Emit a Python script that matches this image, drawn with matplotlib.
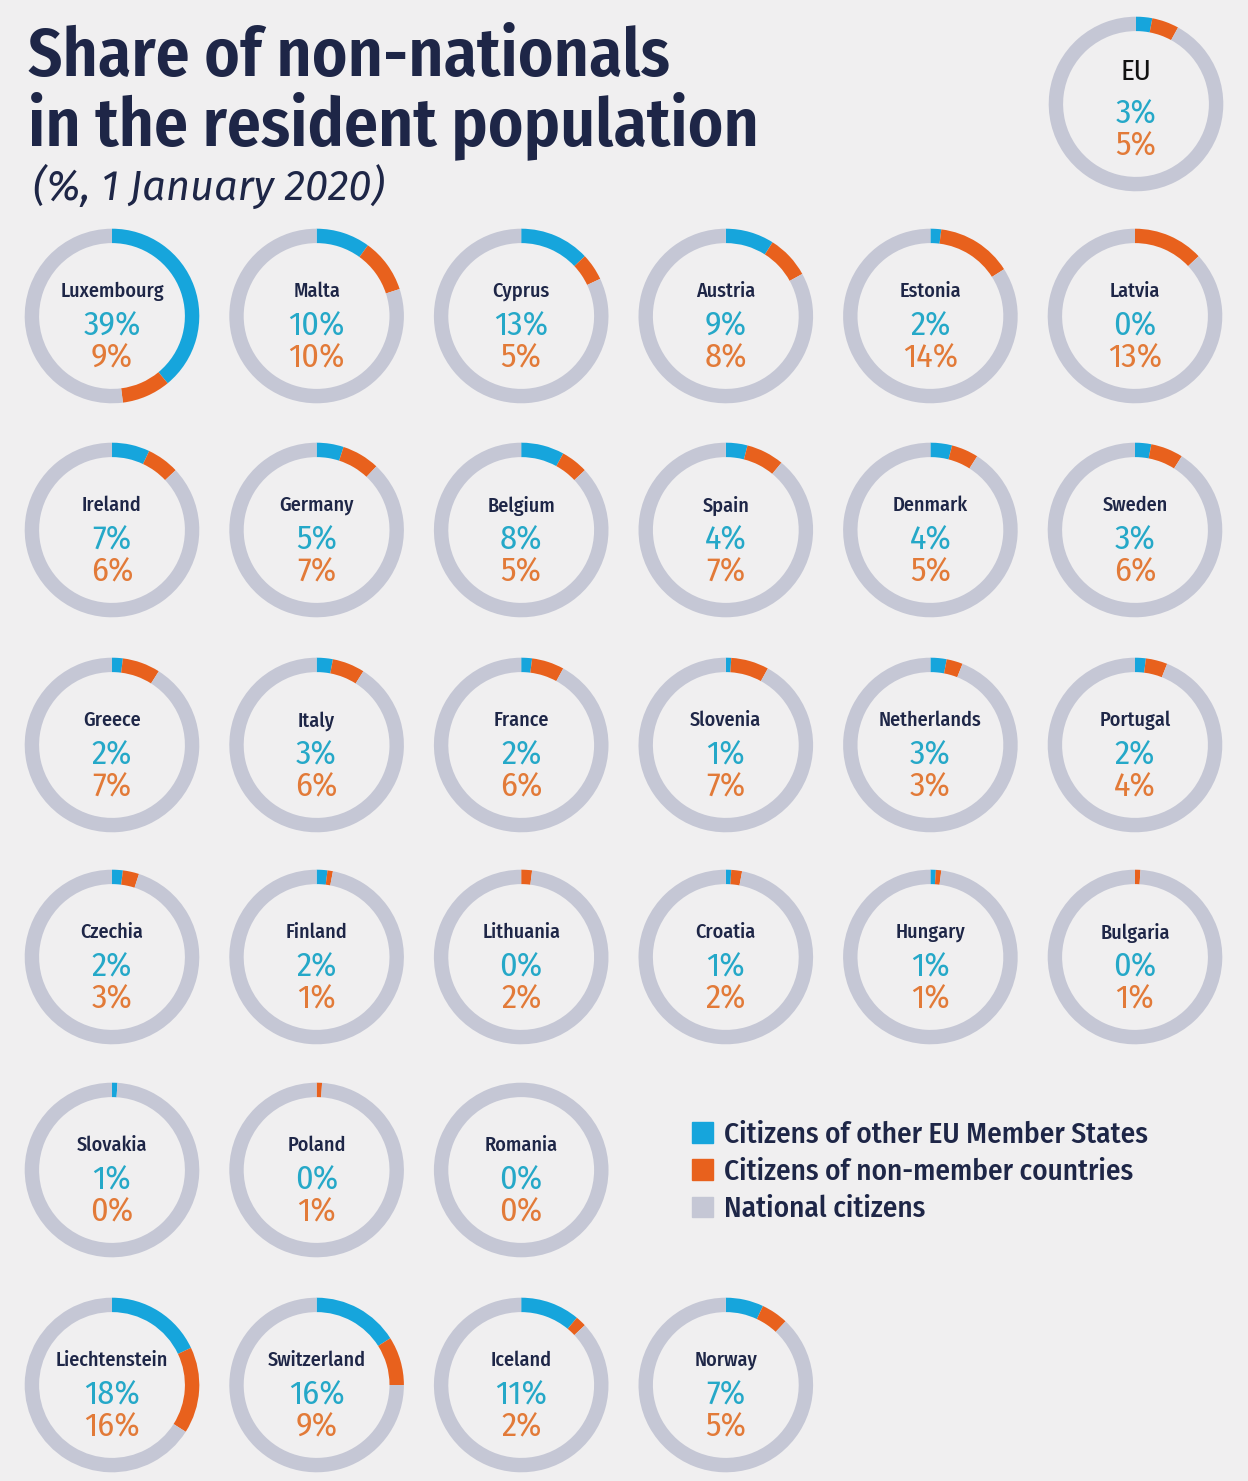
import matplotlib
matplotlib.use('Agg')
import matplotlib.pyplot as plt
from matplotlib.patches import Patch

# share of residents (%), 1 January 2020
countries = ['Luxembourg', 'Malta', 'Cyprus', 'Austria', 'Estonia', 'Latvia',
             'Ireland', 'Germany', 'Belgium', 'Spain', 'Denmark', 'Sweden',
             'Greece', 'Italy', 'France', 'Slovenia', 'Netherlands', 'Portugal',
             'Czechia', 'Finland', 'Lithuania', 'Croatia', 'Hungary', 'Bulgaria',
             'Slovakia', 'Poland', 'Romania',
             'Liechtenstein', 'Switzerland', 'Iceland', 'Norway']
other_eu = [39, 10, 13, 9, 2, 0,
            7, 5, 8, 4, 4, 3,
            2, 3, 2, 1, 3, 2,
            2, 2, 0, 1, 1, 0,
            1, 0, 0,
            18, 16, 11, 7]
non_member = [9, 10, 5, 8, 14, 13,
              6, 7, 5, 7, 5, 6,
              7, 6, 6, 7, 3, 4,
              3, 1, 2, 2, 1, 1,
              0, 1, 0,
              16, 9, 2, 5]
eu_total = ('EU', 3, 5)

legend_labels = ['Citizens of other EU Member States',
                 'Citizens of non-member countries',
                 'National citizens']

BG = '#f0eff0'
CYAN = '#16a5dc'
ORANGE = '#e8611d'
GREY = '#c5c7d5'
NAVY = '#1e2647'
CYAN_TXT = '#25a8c8'
ORANGE_TXT = '#e27a38'
FONT = ['Fira Sans Condensed', 'DejaVu Sans']

W, H = 1248, 1481
fig = plt.figure(figsize=(W / 100, H / 100), dpi=100, facecolor=BG)

R = 90  # donut radius in px


def donut(cx, cy, name, a, b, name_color=NAVY, name_size=14.5, name_y=0.27,
          name_weight='medium'):
    ax = fig.add_axes([(cx - R) / W, 1 - (cy + R) / H, 2 * R / W, 2 * R / H])
    ax.pie([a, b, 100 - a - b], colors=[CYAN, ORANGE, GREY], startangle=90,
           counterclock=False, radius=0.97,
           wedgeprops=dict(width=0.16, linewidth=0))
    ax.set_xlim(-1, 1)
    ax.set_ylim(-1, 1)
    ax.set_aspect('equal')
    ax.axis('off')
    ax.text(0, name_y, name, ha='center', va='center', fontsize=name_size,
            fontweight=name_weight, color=name_color, family=FONT)
    ax.text(0, -0.11, f'{a}%', ha='center', va='center', fontsize=24.5,
            color=CYAN_TXT, family=FONT)
    ax.text(0, -0.47, f'{b}%', ha='center', va='center', fontsize=24.5,
            color=ORANGE_TXT, family=FONT)


col_x = [112 + 204.6 * i for i in range(6)]
row_y = [316, 530, 745, 957, 1170, 1385]

for i, (name, a, b) in enumerate(zip(countries, other_eu, non_member)):
    if i < 27:
        r, c = divmod(i, 6)
    else:
        r, c = 5, i - 27
    donut(col_x[c], row_y[r], name, a, b)

# EU aggregate, top right
donut(1136, 104, eu_total[0], eu_total[1], eu_total[2],
      name_color='#111111', name_size=21, name_y=0.36, name_weight='normal')

# titles
fig.text(28 / W, 1 - 76 / H, 'Share of non-nationals', fontsize=48.5,
         fontweight='semibold', color=NAVY, family=FONT, va='baseline')
fig.text(28 / W, 1 - 145 / H, 'in the resident population', fontsize=48.5,
         fontweight='semibold', color=NAVY, family=FONT, va='baseline')
fig.text(33 / W, 1 - 200 / H, '(%, 1 January 2020)', fontsize=30,
         style='italic', color=NAVY, family=['Fira Sans', 'DejaVu Sans'],
         va='baseline')

handles = [Patch(color=c) for c in (CYAN, ORANGE, GREY)]
fig.legend(handles, legend_labels, loc='upper left',
           bbox_to_anchor=(666 / W, 1 - 1094 / H), frameon=False,
           prop=dict(family=FONT, size=21, weight='medium'),
           labelcolor=NAVY, handlelength=0.7, handleheight=0.7,
           handletextpad=0.4, labelspacing=0.3)

fig.savefig('out.png', dpi=100, facecolor=BG)
